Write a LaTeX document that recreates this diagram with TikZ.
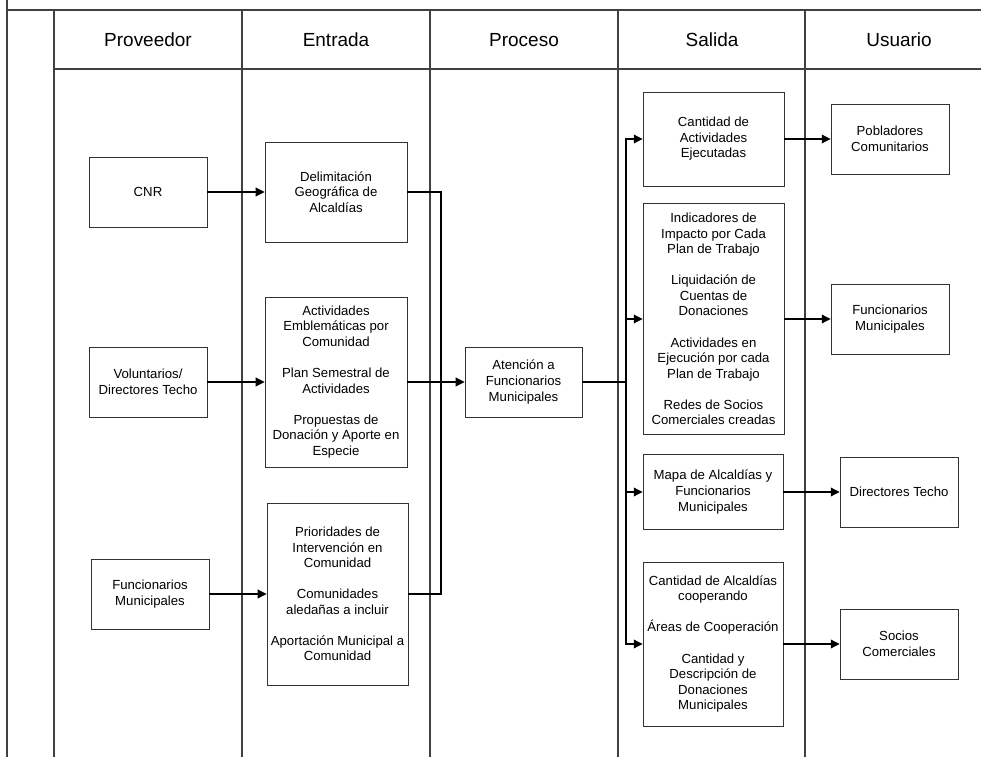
\documentclass[tikz,border=0pt]{standalone}
\usepackage{fontspec}
\setmainfont{Liberation Sans}
\usetikzlibrary{arrows.meta,positioning}

\tikzset{
  lane/.style={draw=black!75, line width=1pt},
  caja/.style={draw=black!80, rectangle, line width=0.55pt, align=center, inner sep=1pt,
    font=\fontsize{7.5}{8.85}\selectfont},
  titulo/.style={font=\fontsize{10.8}{13}\selectfont},
  flecha/.style={draw, line width=0.6pt, -{Triangle[length=5pt,width=5pt]}},
  linea/.style={draw, line width=0.6pt}
}

\begin{document}
\begin{tikzpicture}[x=0.02cm, y=-0.02cm]
    \useasboundingbox (0,0) rectangle (981,757);

    % carriles
    \draw[lane] (7,0) -- (7,757);
    \draw[lane] (7,10) -- (981,10);
    \draw[lane] (54,69) -- (981,69);
    \foreach \x in {54,242,430,618,805}
        \draw[lane] (\x,10) -- (\x,757);

    \node[titulo] (hprov) at (148,40) {Proveedor};
    \node[titulo] (hent) at (336,40) {Entrada};
    \node[titulo] (hproc) at (524,40) {Proceso};
    \node[titulo] (hsal) at (712,40) {Salida};
    \node[titulo] (husr) at (899,40) {Usuario};

    % proveedores
    \node (cnr) [caja, minimum width=2.36cm, minimum height=1.4cm] at (148,192) {CNR};
    \node (volunt) [caja, minimum width=2.36cm, minimum height=1.4cm] at (148,382) {Voluntarios/\\Directores Techo};
    \node (funcprov) [caja, minimum width=2.36cm, minimum height=1.4cm] at (150,594) {Funcionarios\\Municipales};

    % entradas
    \node (delim) [caja, minimum width=2.84cm, minimum height=2cm] at (336,192) {Delimitación\\Geográfica de\\Alcaldías};
    \node (activ) [caja, minimum width=2.84cm, minimum height=3.4cm] at (336,382)
        {Actividades\\Emblemáticas por\\Comunidad\\[8.85pt]Plan Semestral de\\Actividades\\[8.85pt]Propuestas de\\Donación y Aporte en\\Especie};
    \node (prior) [caja, minimum width=2.82cm, minimum height=3.64cm] at (337.5,594)
        {Prioridades de\\Intervención en\\Comunidad\\[8.85pt]Comunidades\\aledañas a incluir\\[8.85pt]Aportación Municipal a\\Comunidad};

    % proceso
    \node (atencion) [caja, minimum width=2.34cm, minimum height=1.4cm] at (523.5,382) {Atención a\\Funcionarios\\Municipales};

    % salidas
    \node (cantact) [caja, minimum width=2.82cm, minimum height=1.88cm] at (713.5,139) {Cantidad de\\Actividades\\Ejecutadas};
    \node (indic) [caja, minimum width=2.82cm, minimum height=4.64cm] at (713.5,319)
        {Indicadores de\\Impacto por Cada\\Plan de Trabajo\\[8.85pt]Liquidación de\\Cuentas de\\Donaciones\\[8.85pt]Actividades en\\Ejecución por cada\\Plan de Trabajo\\[8.85pt]Redes de Socios\\Comerciales creadas};
    \node (mapa) [caja, minimum width=2.8cm, minimum height=1.5cm] at (713,492) {Mapa de Alcaldías y\\Funcionarios\\Municipales};
    \node (cantalc) [caja, minimum width=2.8cm, minimum height=3.28cm] at (713,644)
        {Cantidad de Alcaldías\\cooperando\\[8.85pt]Áreas de Cooperación\\[8.85pt]Cantidad y\\Descripción de\\Donaciones\\Municipales};

    % usuarios
    \node (pobl) [caja, minimum width=2.36cm, minimum height=1.4cm] at (890,139) {Pobladores\\Comunitarios};
    \node (funcusr) [caja, minimum width=2.36cm, minimum height=1.4cm] at (890,319) {Funcionarios\\Municipales};
    \node (dirtecho) [caja, minimum width=2.36cm, minimum height=1.4cm] at (899,492) {Directores Techo};
    \node (socios) [caja, minimum width=2.36cm, minimum height=1.4cm] at (899,644) {Socios\\Comerciales};

    \coordinate (union) at (441,192);
    \coordinate (reparto) at (626,382);

    \draw[flecha] (cnr) -- (delim);
    \draw[flecha] (volunt) -- (activ);
    \draw[flecha] (funcprov) -- (prior);
    \draw[linea] (delim.east) -- (union) |- (prior.east);
    \draw[flecha] (activ) -- (atencion);
    \draw[linea] (atencion.east) -- (reparto);
    \draw[flecha] (reparto) |- (cantact.west);
    \draw[flecha] (reparto) |- (indic.west);
    \draw[flecha] (reparto) |- (mapa.west);
    \draw[flecha] (reparto) |- (cantalc.west);
    \draw[flecha] (cantact) -- (pobl);
    \draw[flecha] (indic) -- (funcusr);
    \draw[flecha] (mapa) -- (dirtecho);
    \draw[flecha] (cantalc) -- (socios);
\end{tikzpicture}
\end{document}
